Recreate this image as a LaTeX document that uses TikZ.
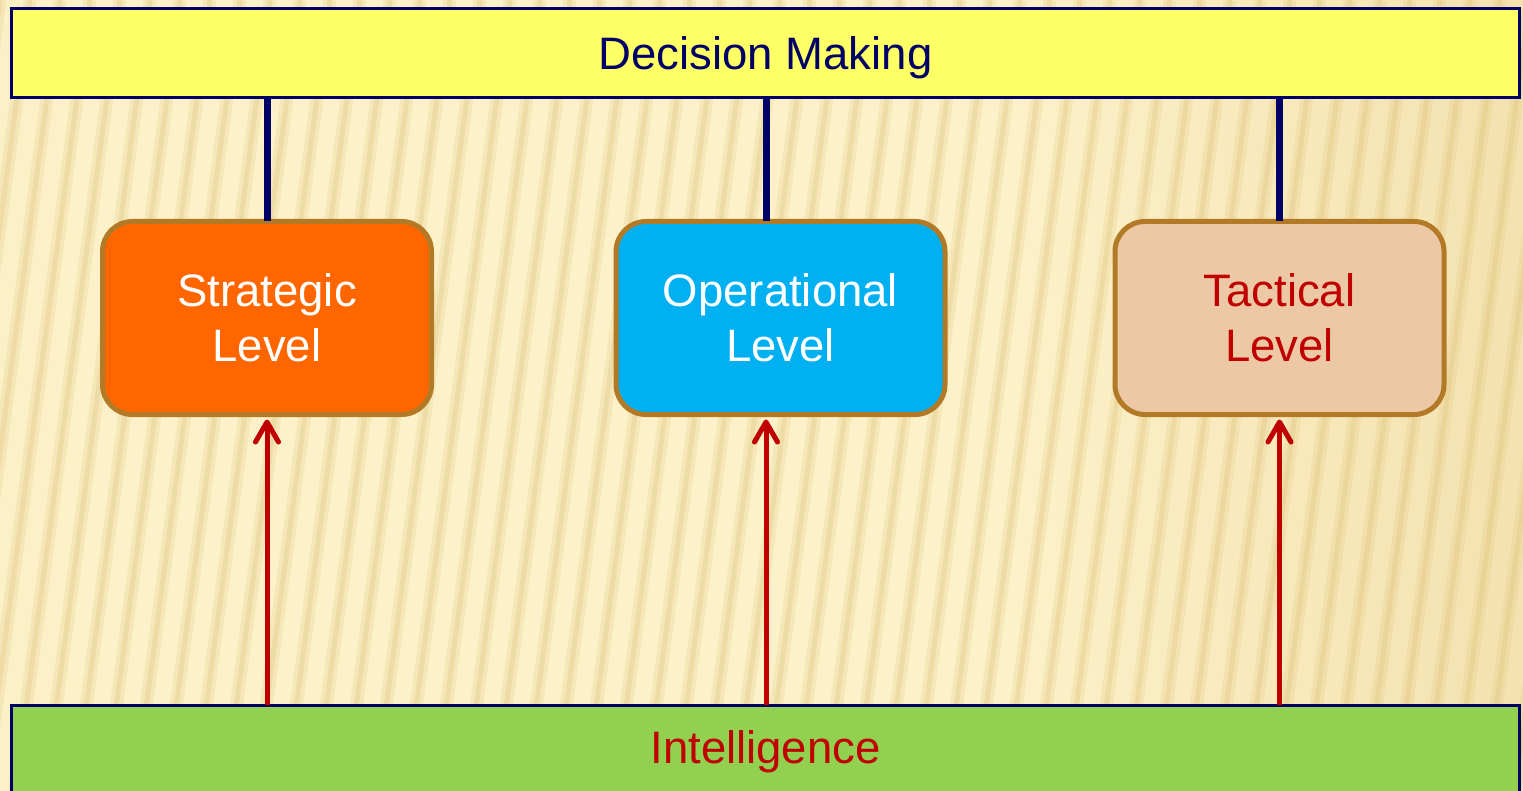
\documentclass[tikz,border=0pt]{standalone}
\usepackage{fontspec}
\setmainfont{Liberation Sans}
\usetikzlibrary{arrows.meta}

\definecolor{bgA}{HTML}{F6E4B2}
\definecolor{bgB}{HTML}{FDF1C9}
\definecolor{bgC}{HTML}{F1DDA8}
\definecolor{bgD}{HTML}{E6CF90}
\definecolor{stripeC}{HTML}{D6B866}
\definecolor{navyC}{HTML}{000066}
\definecolor{barYellow}{HTML}{FFFF66}
\definecolor{barGreen}{HTML}{92D050}
\definecolor{frameBrown}{HTML}{B27A26}
\definecolor{fillOrange}{HTML}{FF6600}
\definecolor{fillBlue}{HTML}{00B0F0}
\definecolor{fillTan}{HTML}{ECC9A4}
\definecolor{redC}{HTML}{C00000}

\pgfdeclarehorizontalshading{parchment}{100bp}{%
  color(0bp)=(bgA); color(28bp)=(bgB); color(58bp)=(bgB);
  color(80bp)=(bgC); color(100bp)=(bgD)}

\tikzset{
  bigtext/.style={font=\fontsize{45.5}{55}\selectfont},
  bar/.style={draw=navyC, line width=3pt, inner sep=0pt, bigtext,
    minimum width=1508pt, minimum height=89pt},
  levelbox/.style={draw=frameBrown, line width=5pt, rounded corners=30pt,
    inner sep=0pt, minimum width=329pt, minimum height=193pt,
    align=center, bigtext},
  stripewide/.style={stripeC, line width=13pt, opacity=0.16},
  stripecore/.style={stripeC, line width=5pt, opacity=0.22},
  navyline/.style={navyC, line width=7pt},
  uparrow/.style={redC, line width=5pt,
    -{Straight Barb[length=20pt,width=23pt,line width=5pt,round]}}
}

\begin{document}
\begin{tikzpicture}[x=1pt, y=-1pt]
  \useasboundingbox (0,0) rectangle (1523,791);

  % textured parchment backdrop
  \shade[shading=parchment] (0,0) rectangle (1523,791);
  \begin{scope}
    \clip (0,0) rectangle (1523,791);
    \foreach \x in {-120,-90,...,1720} {
      \draw[stripewide] (\x,0) -- ++(-105,791);
      \draw[stripecore] (\x,0) -- ++(-105,791);
    }
  \end{scope}

  % decision and intelligence bars
  \node[bar, fill=barYellow, text=navyC, text height=40pt, text depth=7pt]
    (dm) at (765.5,53.5) {Decision Making};
  \node[bar, fill=barGreen, text=redC, text height=38pt, text depth=10pt]
    (intel) at (765.5,749.5) {Intelligence};

  % the three levels
  \node[levelbox, fill=fillOrange, text=white] (sl) at (267,318)
    {Strategic\\Level};
  \node[levelbox, fill=fillBlue, text=white] (ol) at (780.5,318)
    {Operational\\Level};
  \node[levelbox, fill=fillTan, text=redC] (tl) at (1279.5,318)
    {Tactical\\Level};

  % connector columns
  \coordinate (cA) at (267,0);
  \coordinate (cB) at (766,0);
  \coordinate (cC) at (1279.5,0);

  \foreach \b/\c in {sl/cA, ol/cB, tl/cC} {
    \draw[navyline] ([yshift=1.5pt]dm.south -| \c) -- ([yshift=-2.5pt]\b.north -| \c);
    \draw[uparrow] ([yshift=-1.5pt]intel.north -| \c) -- ([yshift=-2.5pt]\b.south -| \c);
  }
\end{tikzpicture}
\end{document}
